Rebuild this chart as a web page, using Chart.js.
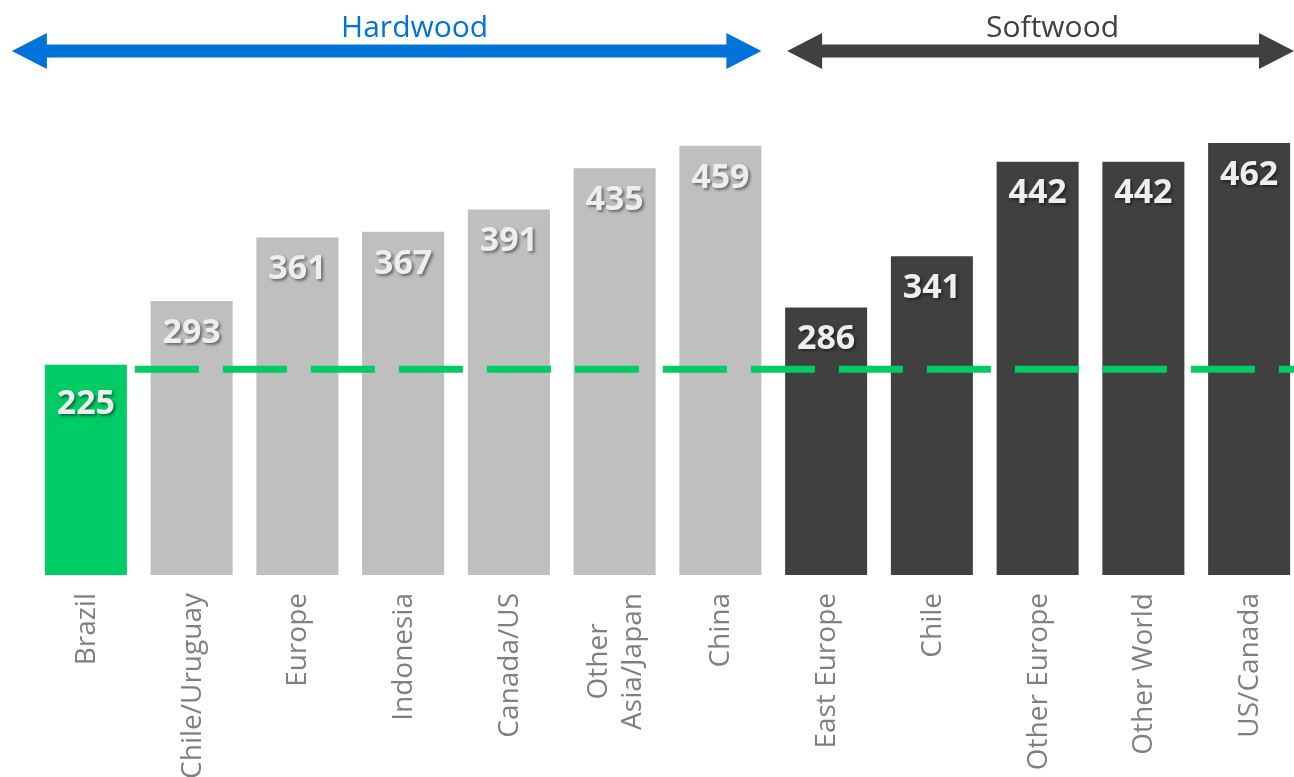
<!DOCTYPE html>
<html>
<head>
<meta charset="utf-8">
<script src="https://cdn.jsdelivr.net/npm/chart.js@4"></script>
<style>
  html, body { margin: 0; padding: 0; background: #fff; overflow: hidden; }
  #wrap { width: 1310px; height: 777px; }
</style>
</head>
<body>
<div id="wrap"><canvas id="woodChart"></canvas></div>
<script>
// chart values
const categories = ['Brazil', 'Chile/Uruguay', 'Europe', 'Indonesia', 'Canada/US', ['Other', 'Asia/Japan'], 'China',
  'East Europe', 'Chile', 'Other Europe', 'Other World', 'US/Canada'];
const costs = [225, 293, 361, 367, 391, 435, 459, 286, 341, 442, 442, 462];
const benchmark = 220;
const groupNames = ['Hardwood', 'Softwood'];
const groupFirst = [0, 7];
const groupLast = [6, 11];

const GREEN = '#00cc66';
const barColors = costs.map((v, i) => i === 0 ? GREEN : (i <= 6 ? '#bfbfbf' : '#404040'));
const groupColors = ['#0073d9', '#404040'];

function arrow(ctx, x1, x2, y, color) {
  const head = 35, half = 18, thick = 13;
  ctx.save();
  ctx.fillStyle = color;
  ctx.fillRect(x1 + head - 1, y - thick / 2, (x2 - x1) - 2 * head + 2, thick);
  ctx.beginPath();
  ctx.moveTo(x1, y); ctx.lineTo(x1 + head, y - half); ctx.lineTo(x1 + head, y + half); ctx.closePath();
  ctx.fill();
  ctx.beginPath();
  ctx.moveTo(x2, y); ctx.lineTo(x2 - head, y - half); ctx.lineTo(x2 - head, y + half); ctx.closePath();
  ctx.fill();
  ctx.restore();
}

const extras = {
  id: 'extras',
  afterDatasetsDraw(chart) {
    const ctx = chart.ctx;
    const bars = chart.getDatasetMeta(0).data;
    const y = chart.scales.y;

    // benchmark dashed line
    const ly = y.getPixelForValue(benchmark);
    ctx.save();
    ctx.strokeStyle = GREEN;
    ctx.lineWidth = 7;
    ctx.setLineDash([64, 24]);
    ctx.beginPath();
    ctx.moveTo(bars[0].x + bars[0].width / 2 + 8, ly);
    ctx.lineTo(chart.width, ly);
    ctx.stroke();
    ctx.restore();

    // value labels
    ctx.save();
    ctx.font = 'bold 34px "Open Sans"';
    ctx.textAlign = 'center';
    ctx.textBaseline = 'middle';
    ctx.fillStyle = '#eeeeee';
    ctx.shadowColor = 'rgba(0,0,0,0.45)';
    ctx.shadowOffsetX = 2;
    ctx.shadowOffsetY = 2;
    ctx.shadowBlur = 3;
    bars.forEach((b, i) => {
      ctx.fillText(String(costs[i]), b.x, b.y + (i === 0 ? 40 : 32));
    });
    ctx.restore();

    // category labels, rotated to read upwards
    ctx.save();
    ctx.font = '28px "Open Sans"';
    ctx.fillStyle = '#7f7f7f';
    ctx.textBaseline = 'middle';
    bars.forEach((b, i) => {
      const lines = Array.isArray(categories[i]) ? categories[i] : [categories[i]];
      const maxW = Math.max(...lines.map(l => ctx.measureText(l).width));
      ctx.save();
      ctx.translate(b.x, 593);
      ctx.rotate(-Math.PI / 2);
      ctx.textAlign = 'center';
      lines.forEach((l, k) => {
        const off = (k - (lines.length - 1) / 2) * 34;
        ctx.fillText(l, -maxW / 2, off + 1);
      });
      ctx.restore();
    });
    ctx.restore();

    // group arrows and headers
    ctx.save();
    ctx.font = '30px "Open Sans"';
    ctx.textAlign = 'center';
    ctx.textBaseline = 'alphabetic';
    groupNames.forEach((name, g) => {
      const first = bars[groupFirst[g]], last = bars[groupLast[g]];
      let x1 = first.x - first.width / 2;
      let x2 = last.x + last.width / 2;
      if (g === 0) { x1 -= 33; } else { x1 += 2; x2 = Math.min(x2 + 4, 1294); }
      arrow(ctx, x1, x2, 51, groupColors[g]);
      ctx.fillStyle = groupColors[g];
      ctx.fillText(name, (x1 + x2) / 2 + (g === 0 ? 28 : 12), 37);
    });
    ctx.restore();
  }
};

new Chart(document.getElementById('woodChart').getContext('2d'), {
  type: 'bar',
  data: {
    labels: categories,
    datasets: [{
      data: costs,
      backgroundColor: barColors,
      borderWidth: 0,
      categoryPercentage: 1,
      barPercentage: 0.7756
    }]
  },
  options: {
    responsive: true,
    maintainAspectRatio: false,
    animation: false,
    layout: { padding: { left: 33, right: 8, top: 107.5, bottom: 202 } },
    scales: {
      x: { display: false },
      y: { display: false, min: 0, max: 500 }
    },
    plugins: {
      legend: { display: false },
      tooltip: { enabled: false }
    }
  },
  plugins: [extras]
});
</script>
</body>
</html>
